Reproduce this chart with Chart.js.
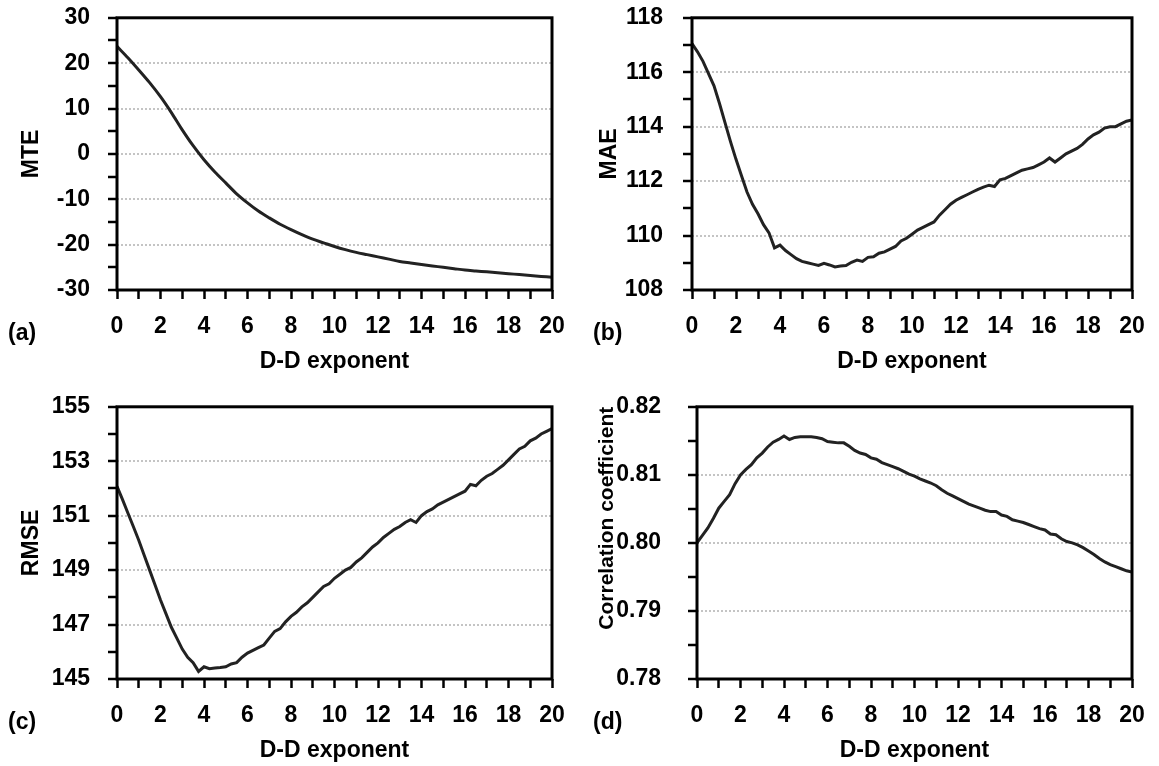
<!DOCTYPE html>
<html>
<head>
<meta charset="utf-8">
<script src="https://cdn.jsdelivr.net/npm/chart.js"></script>
<style>
  body { margin: 0; background: #fff; width: 1159px; height: 766px; position: relative; overflow: hidden; }
  canvas { position: absolute; }
</style>
</head>
<body>
<canvas id="panelA"></canvas>
<canvas id="panelB"></canvas>
<canvas id="panelC"></canvas>
<canvas id="panelD"></canvas>
<script>
// D-D exponent values (x): coarse grid for the smooth MTE curve, finer grid for the noisy ones
var dExp = [0, 0.5, 1, 1.5, 2, 2.5, 3, 3.5, 4, 4.5, 5, 5.5, 6, 6.5, 7, 7.5, 8, 8.5, 9, 9.5, 10,
  10.5, 11, 11.5, 12, 12.5, 13, 13.5, 14, 14.5, 15, 15.5, 16, 16.5, 17, 17.5, 18, 18.5, 19, 19.5, 20];
var dExpFine = [0, 0.25, 0.5, 0.75, 1, 1.25, 1.5, 1.75, 2, 2.25, 2.5, 2.75, 3, 3.25, 3.5, 3.75,
  4, 4.25, 4.5, 4.75, 5, 5.25, 5.5, 5.75, 6, 6.25, 6.5, 6.75, 7, 7.25, 7.5, 7.75,
  8, 8.25, 8.5, 8.75, 9, 9.25, 9.5, 9.75, 10, 10.25, 10.5, 10.75, 11, 11.25, 11.5, 11.75,
  12, 12.25, 12.5, 12.75, 13, 13.25, 13.5, 13.75, 14, 14.25, 14.5, 14.75, 15, 15.25, 15.5, 15.75,
  16, 16.25, 16.5, 16.75, 17, 17.25, 17.5, 17.75, 18, 18.25, 18.5, 18.75, 19, 19.25, 19.5, 19.75, 20];

var mte = [23.7, 21.2, 18.5, 15.7, 12.6, 9.1, 5.3, 1.8, -1.3, -4.0, -6.4, -8.8, -10.8, -12.6, -14.1, -15.5, -16.7, -17.8, -18.8, -19.6, -20.4,
  -21.1, -21.7, -22.2, -22.7, -23.2, -23.7, -24.05, -24.4, -24.7, -25.0, -25.3, -25.6, -25.8, -26.0, -26.2, -26.4, -26.6, -26.8, -27.0, -27.2];

var mae = [117.05, 116.75, 116.4, 115.95, 115.5, 114.85, 114.15, 113.45, 112.8, 112.2, 111.6, 111.15, 110.8, 110.4, 110.1, 109.55,
  109.65, 109.45, 109.3, 109.15, 109.05, 109.0, 108.95, 108.9, 108.98, 108.92, 108.85, 108.88, 108.9, 109.02, 109.1, 109.05,
  109.2, 109.22, 109.35, 109.4, 109.5, 109.6, 109.8, 109.9, 110.05, 110.2, 110.3, 110.4, 110.5, 110.75, 110.95, 111.15,
  111.3, 111.4, 111.5, 111.6, 111.7, 111.78, 111.85, 111.8, 112.05, 112.1, 112.2, 112.3, 112.4, 112.45, 112.5, 112.6,
  112.7, 112.85, 112.7, 112.85, 113.0, 113.1, 113.2, 113.35, 113.55, 113.7, 113.8, 113.95, 114.0, 114.0, 114.1, 114.2, 114.25];

var rmse = [152.08, 151.6, 151.1, 150.6, 150.1, 149.55, 149.0, 148.45, 147.9, 147.4, 146.9, 146.5, 146.1, 145.8, 145.6, 145.28,
  145.45, 145.38, 145.4, 145.42, 145.45, 145.55, 145.6, 145.8, 145.95, 146.05, 146.15, 146.25, 146.5, 146.75, 146.85, 147.1,
  147.3, 147.45, 147.65, 147.8, 148.0, 148.2, 148.4, 148.5, 148.7, 148.85, 149.0, 149.1, 149.3, 149.45, 149.65, 149.85,
  150.0, 150.2, 150.35, 150.5, 150.6, 150.75, 150.85, 150.75, 151.0, 151.15, 151.25, 151.4, 151.5, 151.6, 151.7, 151.8,
  151.9, 152.15, 152.1, 152.3, 152.45, 152.55, 152.7, 152.85, 153.05, 153.25, 153.45, 153.55, 153.75, 153.85, 154.0, 154.1, 154.2];

var corr = [0.8000, 0.8011, 0.8022, 0.8036, 0.8051, 0.8061, 0.8071, 0.8087, 0.8100, 0.8108, 0.8115, 0.8125, 0.8132, 0.8141, 0.8148, 0.8152,
  0.8157, 0.8152, 0.8155, 0.8156, 0.8156, 0.8156, 0.8155, 0.8153, 0.8149, 0.8148, 0.8147, 0.8147, 0.8142, 0.8136, 0.8132, 0.8130,
  0.8125, 0.8123, 0.8118, 0.8115, 0.8112, 0.8109, 0.8105, 0.8101, 0.8098, 0.8094, 0.8091, 0.8088, 0.8084, 0.8078, 0.8073, 0.8069,
  0.8065, 0.8061, 0.8057, 0.8054, 0.8051, 0.8048, 0.8046, 0.8046, 0.8041, 0.8039, 0.8034, 0.8032, 0.8030, 0.8027, 0.8024, 0.8021,
  0.8019, 0.8013, 0.8012, 0.8006, 0.8002, 0.8000, 0.7997, 0.7993, 0.7988, 0.7983, 0.7977, 0.7972, 0.7968, 0.7965, 0.7962, 0.7959, 0.7957];

// labelled ticks
var xLabels = [0, 2, 4, 6, 8, 10, 12, 14, 16, 18, 20];
var mteLabels = [-30, -20, -10, 0, 10, 20, 30];
var maeLabels = [108, 110, 112, 114, 116, 118];
var rmseLabels = [145, 147, 149, 151, 153, 155];
var corrLabels = [0.78, 0.79, 0.80, 0.81, 0.82];

var FONT = '"Liberation Sans", Arial, sans-serif';
var FSIZE = 23;
Chart.defaults.font.family = FONT;
Chart.defaults.font.size = FSIZE;
Chart.defaults.font.weight = 'bold';
Chart.defaults.color = '#000';

function inList(list, v) {
  for (var i = 0; i < list.length; i++) {
    if (Math.abs(list[i] - v) < 1e-7) return true;
  }
  return false;
}

var framePlugin = {
  id: 'frame',
  afterDatasetsDraw: function (chart) {
    var a = chart.chartArea, ctx = chart.ctx;
    ctx.save();
    ctx.setLineDash([]);
    ctx.lineWidth = 3;
    ctx.strokeStyle = '#000';
    ctx.strokeRect(a.left, a.top, a.right - a.left, a.bottom - a.top);
    ctx.restore();
  },
  afterDraw: function (chart, args, opts) {
    var ctx = chart.ctx;
    ctx.save();
    ctx.font = 'bold ' + FSIZE + 'px ' + FONT;
    ctx.fillStyle = '#000';
    ctx.textBaseline = 'middle';
    ctx.fillText(opts.letter, opts.lx, chart.chartArea.bottom + 44);
    ctx.restore();
  }
};

function makePanel(id, o) {
  var el = document.getElementById(id);
  var xHeight = 85;
  // chart area top sits half a label line plus tick padding below the canvas top
  var canvasTop = Math.round(o.plotTop - FSIZE * 0.6 - o.tickPad);
  el.width = o.width;
  el.height = o.plotBottom + xHeight - canvasTop;
  el.style.left = o.left + 'px';
  el.style.top = canvasTop + 'px';

  var pts = o.values.map(function (v, i) { return { x: o.xs[i], y: v }; });
  new Chart(el, {
    type: 'line',
    data: {
      datasets: [{
        data: pts,
        borderColor: '#222',
        borderWidth: 3,
        pointRadius: 0,
        tension: o.tension || 0,
        fill: false
      }]
    },
    options: {
      responsive: false,
      animation: false,
      events: [],
      layout: { padding: { top: 0, right: o.padRight, left: 0, bottom: 0 } },
      plugins: {
        legend: { display: false },
        tooltip: { enabled: false },
        frame: { letter: o.letter, lx: o.lx }
      },
      scales: {
        x: {
          type: 'linear',
          min: 0,
          max: 20,
          afterFit: function (s) { s.height = xHeight; },
          ticks: {
            stepSize: 1,
            autoSkip: false,
            maxRotation: 0,
            padding: 14,
            callback: function (v) { return inList(xLabels, v) ? String(v) : ''; }
          },
          grid: { drawOnChartArea: false, tickLength: 9, tickWidth: 2.5, tickColor: '#000' },
          border: { display: false },
          title: { display: true, text: 'D-D exponent', padding: 0, font: { size: FSIZE, weight: 'bold' } }
        },
        y: {
          min: o.min,
          max: o.max,
          afterFit: function (s) { s.width = o.yWidth; },
          ticks: {
            stepSize: o.step,
            autoSkip: false,
            padding: o.tickPad,
            callback: function (v) { return inList(o.labels, v) ? v.toFixed(o.dec) : ''; }
          },
          grid: {
            tickLength: 9,
            tickWidth: 2.5,
            tickColor: '#000',
            lineWidth: 2,
            color: function (c) {
              if (!c.tick) return 'rgba(0,0,0,0)';
              var v = c.tick.value;
              if (inList(o.labels, v) && Math.abs(v - o.min) > 1e-7 && Math.abs(v - o.max) > 1e-7) return '#c4c4c4';
              return 'rgba(0,0,0,0)';
            }
          },
          border: { display: false, dash: [2, 2] },
          title: {
            display: true,
            text: o.title,
            align: o.titleAlign || 'center',
            padding: { top: o.titlePad, bottom: 0 },
            font: { size: o.titleSize || FSIZE, weight: 'bold' }
          }
        }
      }
    },
    plugins: [framePlugin]
  });
}

makePanel('panelA', {
  xs: dExp, values: mte, min: -30, max: 30, step: 5, labels: mteLabels, dec: 0,
  left: 0, width: 580, plotTop: 18, plotBottom: 290,
  title: 'MTE', titlePad: 18, tickPad: 18, yWidth: 117, padRight: 28,
  letter: '(a)', lx: 8, tension: 0.3
});
makePanel('panelB', {
  xs: dExpFine, values: mae, min: 108, max: 118, step: 1, labels: maeLabels, dec: 0,
  left: 580, width: 579, plotTop: 18, plotBottom: 290,
  title: 'MAE', titlePad: 16, tickPad: 20, yWidth: 112, padRight: 27,
  letter: '(b)', lx: 13
});
makePanel('panelC', {
  xs: dExpFine, values: rmse, min: 145, max: 155, step: 1, labels: rmseLabels, dec: 0,
  left: 0, width: 580, plotTop: 407, plotBottom: 679,
  title: 'RMSE', titlePad: 18, tickPad: 18, yWidth: 117, padRight: 28,
  letter: '(c)', lx: 8
});
makePanel('panelD', {
  xs: dExpFine, values: corr, min: 0.78, max: 0.82, step: 0.005, labels: corrLabels, dec: 2,
  left: 580, width: 579, plotTop: 407, plotBottom: 679,
  title: 'Correlation coefficient', titleAlign: 'end', titleSize: 21, titlePad: 15, tickPad: 27, yWidth: 117, padRight: 27,
  letter: '(d)', lx: 13
});
</script>
</body>
</html>
